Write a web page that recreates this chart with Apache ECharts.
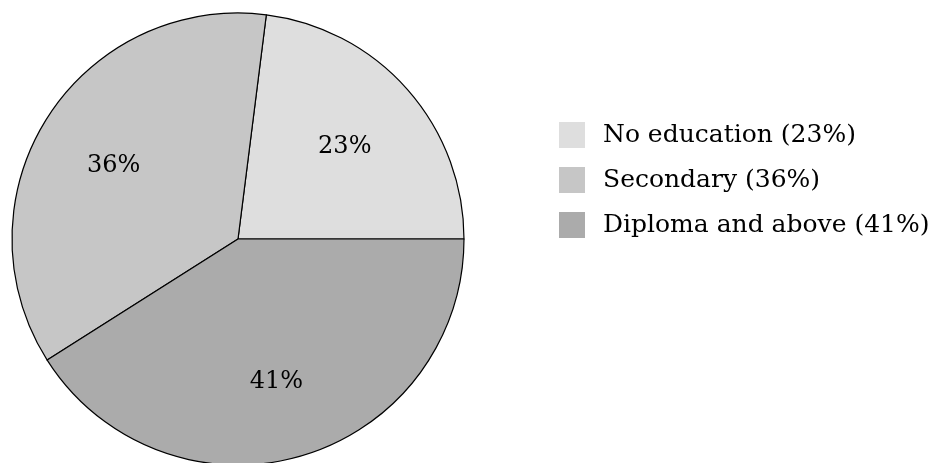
<!DOCTYPE html>
<html>
<head>
<meta charset="utf-8">
<script src="https://cdn.jsdelivr.net/npm/echarts@6/dist/echarts.min.js"></script>
<style>
  html, body { margin: 0; padding: 0; background: #fff; }
  #chart { width: 936px; height: 463px; }
</style>
</head>
<body>
<div id="chart"></div>
<script>
var categories = ['No education', 'Secondary', 'Diploma and above'];
var shares = [23, 36, 41];
var sliceColors = ['#dedede', '#c6c6c6', '#ababab'];

var fontFamily = '"DejaVu Serif", "Liberation Serif", serif';

var pieData = categories.map(function (name, i) {
    return { value: shares[i], name: name + ' (' + shares[i] + '%)', itemStyle: { color: sliceColors[i] } };
});

var myChart = echarts.init(document.getElementById('chart'));

var option = {
    animation: false,
    legend: {
        orient: 'vertical',
        left: 554,
        top: 117,
        icon: 'rect',
        itemWidth: 26,
        itemHeight: 26,
        itemGap: 19,
        selectedMode: false,
        itemStyle: { borderWidth: 0 },
        textStyle: {
            fontFamily: fontFamily,
            fontSize: 25,
            lineHeight: 26,
            color: '#000',
            padding: [0, 0, 0, 13]
        },
        data: pieData.map(function (d) { return d.name; })
    },
    series: [
        {
            // main slices
            type: 'pie',
            center: [238, 239],
            radius: [0, 226],
            startAngle: 0,
            clockwise: false,
            silent: true,
            label: { show: false },
            labelLine: { show: false },
            itemStyle: { borderColor: '#000', borderWidth: 1.2 },
            data: pieData
        },
        {
            // transparent helper ring only to place the percent labels
            type: 'pie',
            center: [238, 239],
            radius: [0, 284],
            startAngle: 0,
            clockwise: false,
            silent: true,
            legendHoverLink: false,
            itemStyle: { color: 'rgba(0,0,0,0)' },
            label: {
                show: true,
                position: 'inside',
                fontFamily: fontFamily,
                fontSize: 24,
                color: '#000',
                offset: [-2, 4],
                formatter: function (p) { return shares[p.dataIndex] + '%'; }
            },
            labelLine: { show: false },
            data: shares.map(function (v, i) { return { value: v, name: 'lbl' + i }; })
        }
    ]
};

myChart.setOption(option);
</script>
</body>
</html>
